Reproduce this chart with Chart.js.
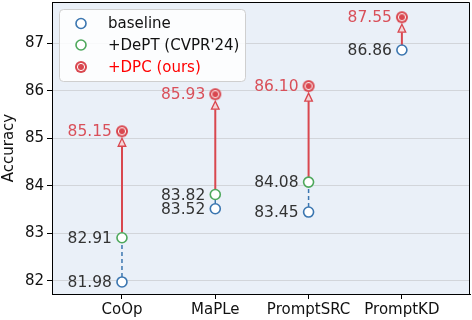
<!DOCTYPE html>
<html><head><meta charset="utf-8">
<script src="https://cdn.jsdelivr.net/npm/chart.js@4"></script>
<style>html,body{margin:0;padding:0;background:#fff}#wrap{width:472px;height:320px}</style>
</head><body><div id="wrap"><canvas id="c" width="472" height="320"></canvas></div>
<script>
const categories = ['CoOp', 'MaPLe', 'PromptSRC', 'PromptKD'];
const baseline = [81.98, 83.52, 83.45, 86.86];
const dept = [82.91, 83.82, 84.08, null];
const dpc = [85.15, 85.93, 86.10, 87.55];
const yTicks = [82, 83, 84, 85, 86, 87];
const seriesNames = ['baseline', '+DePT (CVPR\'24)', '+DPC (ours)'];

const BLUE = '#3b76b0', GREEN = '#4ea85c', RED = '#d9474f', REDTXT = '#d9505a';
const FONT = 'DejaVu Sans';

function dpcMarker() {
  const c = document.createElement('canvas');
  c.width = 14; c.height = 14;
  const g = c.getContext('2d');
  g.fillStyle = RED; g.beginPath(); g.arc(7, 7, 6, 0, Math.PI * 2); g.fill();
  g.strokeStyle = '#fff'; g.lineWidth = 1; g.beginPath(); g.arc(7, 7, 3.6, 0, Math.PI * 2); g.stroke();
  return c;
}
const dpcImg = dpcMarker();

const toPts = arr => arr.map((v, i) => v == null ? null : ({x: i, y: v})).filter(p => p);

const deco = {
  id: 'deco',
  beforeDraw(chart) {
    const {ctx, chartArea: a} = chart;
    ctx.save();
    ctx.fillStyle = '#eaf0f8';
    ctx.fillRect(a.left, a.top, a.right - a.left, a.bottom - a.top);
    ctx.restore();
  },
  beforeDatasetsDraw(chart) {
    const {ctx, scales: {x, y}} = chart;
    ctx.save();
    for (let i = 0; i < categories.length; i++) {
      const px = x.getPixelForValue(i);
      const yb = y.getPixelForValue(baseline[i]);
      const yp = y.getPixelForValue(dpc[i]);
      let ys = yb;
      if (dept[i] != null) {
        const yd = y.getPixelForValue(dept[i]);
        ctx.strokeStyle = BLUE; ctx.lineWidth = 1.5; ctx.setLineDash([4, 3]);
        ctx.beginPath(); ctx.moveTo(px, yb - 5); ctx.lineTo(px, yd + 5); ctx.stroke();
        ys = yd;
      }
      ctx.setLineDash([]);
      const tip = yp + 7, base = tip + 8;
      ctx.strokeStyle = RED; ctx.lineWidth = 2;
      ctx.beginPath(); ctx.moveTo(px, ys - 5); ctx.lineTo(px, base); ctx.stroke();
      ctx.lineWidth = 1.3; ctx.fillStyle = '#f4d6d8';
      ctx.beginPath(); ctx.moveTo(px, tip); ctx.lineTo(px - 3.8, base); ctx.lineTo(px + 3.8, base); ctx.closePath();
      ctx.fill(); ctx.stroke();
    }
    ctx.restore();
  },
  afterDatasetsDraw(chart) {
    const {ctx, scales: {x, y}} = chart;
    ctx.save();
    ctx.font = '15.5px "' + FONT + '"';
    ctx.textAlign = 'right'; ctx.textBaseline = 'middle';
    for (let i = 0; i < categories.length; i++) {
      const px = x.getPixelForValue(i) - 10;
      ctx.fillStyle = '#333';
      ctx.fillText(baseline[i].toFixed(2), px, y.getPixelForValue(baseline[i]) + 1);
      if (dept[i] != null) ctx.fillText(dept[i].toFixed(2), px, y.getPixelForValue(dept[i]) + 1);
      ctx.fillStyle = REDTXT;
      ctx.fillText(dpc[i].toFixed(2), px, y.getPixelForValue(dpc[i]) + 1);
    }
    ctx.restore();
  },
  afterDraw(chart) {
    const {ctx, chartArea: a} = chart;
    ctx.save();
    ctx.strokeStyle = '#000'; ctx.lineWidth = 1;
    ctx.beginPath();
    ctx.moveTo(a.left, a.top + 0.5); ctx.lineTo(a.right - 0.5, a.top + 0.5); ctx.lineTo(a.right - 0.5, a.bottom);
    ctx.stroke();
    // legend
    const lx = a.left + 7.5, ly = a.top + 7.5, lw = 186, lh = 72, r = 4;
    ctx.fillStyle = 'rgba(255,255,255,0.85)'; ctx.strokeStyle = '#cfcfcf';
    ctx.beginPath();
    ctx.moveTo(lx + r, ly); ctx.lineTo(lx + lw - r, ly); ctx.arcTo(lx + lw, ly, lx + lw, ly + r, r);
    ctx.lineTo(lx + lw, ly + lh - r); ctx.arcTo(lx + lw, ly + lh, lx + lw - r, ly + lh, r);
    ctx.lineTo(lx + r, ly + lh); ctx.arcTo(lx, ly + lh, lx, ly + lh - r, r);
    ctx.lineTo(lx, ly + r); ctx.arcTo(lx, ly, lx + r, ly, r); ctx.closePath();
    ctx.fill(); ctx.stroke();
    const rows = [ly + 14, ly + 35.5, ly + 57.5];
    const mx = lx + 21.5;
    ctx.lineWidth = 1.6;
    ctx.fillStyle = '#fff';
    ctx.strokeStyle = BLUE; ctx.beginPath(); ctx.arc(mx, rows[0], 5, 0, Math.PI * 2); ctx.fill(); ctx.stroke();
    ctx.strokeStyle = GREEN; ctx.beginPath(); ctx.arc(mx, rows[1], 5, 0, Math.PI * 2); ctx.fill(); ctx.stroke();
    ctx.drawImage(dpcImg, mx - 7, rows[2] - 7);
    ctx.font = '15px "' + FONT + '"'; ctx.textAlign = 'left'; ctx.textBaseline = 'middle';
    const colors = ['#111', '#111', '#ff0000'];
    seriesNames.forEach((n, k) => { ctx.fillStyle = colors[k]; ctx.fillText(n, lx + 48.5, rows[k] + 1); });
    ctx.restore();
  }
};

const circleDs = (label, arr, color) => ({
  label, data: toPts(arr), pointStyle: 'circle', pointRadius: 5, pointHoverRadius: 5,
  pointBackgroundColor: '#fff', pointBorderColor: color, pointBorderWidth: 1.6, showLine: false
});

new Chart(document.getElementById('c'), {
  type: 'scatter',
  data: {
    datasets: [
      circleDs(seriesNames[0], baseline, BLUE),
      circleDs(seriesNames[1], dept, GREEN),
      {label: seriesNames[2], data: toPts(dpc), pointStyle: dpcImg, pointRadius: 6, showLine: false}
    ]
  },
  options: {
    responsive: false, animation: false, events: [],
    layout: {autoPadding: false, padding: {top: 2, right: 2, left: 0, bottom: 0}},
    plugins: {legend: {display: false}, tooltip: {enabled: false}},
    scales: {
      x: {
        type: 'linear', min: -0.75, max: 3.73,
        afterBuildTicks: s => { s.ticks = categories.map((c, i) => ({value: i})); },
        afterFit: s => { s.height = 26; s.paddingLeft = 0; s.paddingRight = 0; },
        ticks: {callback: v => categories[v], color: '#111', font: {family: FONT, size: 15}, padding: 2, maxRotation: 0},
        grid: {drawOnChartArea: false, drawTicks: true, tickLength: 5, tickColor: '#000'},
        border: {display: true, color: '#000', width: 1}
      },
      y: {
        min: 81.726, max: 87.87,
        afterBuildTicks: s => { s.ticks = yTicks.map(v => ({value: v})); },
        afterFit: s => { s.width = 52; s.paddingTop = 0; s.paddingBottom = 0; },
        ticks: {color: '#111', font: {family: FONT, size: 15}, padding: 3},
        grid: {color: '#d2d5da', lineWidth: 1, drawTicks: true, tickLength: 5, tickColor: '#000'},
        border: {display: true, color: '#000', width: 1},
        title: {display: true, text: 'Accuracy', color: '#111', font: {family: FONT, size: 15}, padding: 0}
      }
    }
  },
  plugins: [deco]
});
</script></body></html>
